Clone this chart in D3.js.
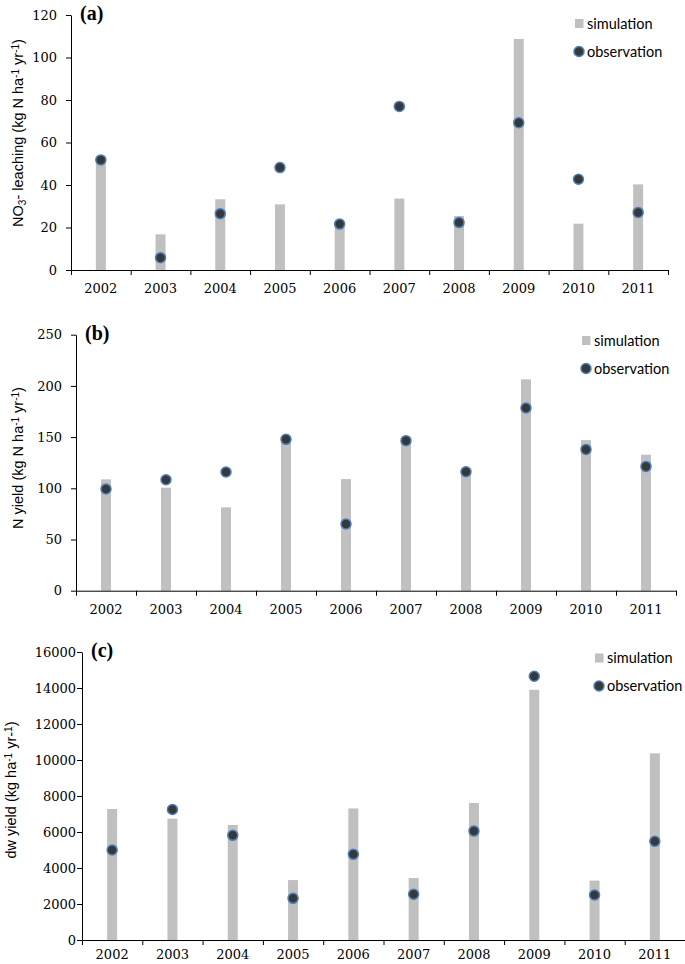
<!DOCTYPE html>
<html>
<head>
<meta charset="utf-8">
<script src="https://cdn.jsdelivr.net/npm/d3@7.9.0/dist/d3.min.js"></script>
<style>
  html, body { margin: 0; padding: 0; background: #fff; }
  svg { display: block; }
  .tick text { font-family: "DejaVu Serif", serif; font-size: 13px; fill: #000; }
  .domain, .tick line { stroke: #000; stroke-width: 1; }
  .ylab { font-family: "Liberation Sans", Arial, sans-serif; font-size: 14.5px; }
  .legend text { font-family: Lato, "Open Sans", sans-serif; font-size: 14.5px; }
  .plabel { font-family: "Liberation Serif", serif; font-weight: bold; font-size: 20px; }
</style>
</head>
<body>
<div id="chart"></div>
<script>
// data
const years = ["2002", "2003", "2004", "2005", "2006", "2007", "2008", "2009", "2010", "2011"];

// (a) NO3- leaching
const leachSim = [51, 16.8, 33.3, 30.9, 21, 33.6, 25.4, 108.7, 21.8, 40.3];
const leachObs = [51.8, 5.8, 26.5, 48.2, 21.6, 77, 22.3, 69.3, 42.7, 27.1];
const leachTicks = [0, 20, 40, 60, 80, 100, 120];

// (b) N yield
const nSim = [108.7, 100.6, 81.4, 147, 109, 147, 116, 206.4, 147.1, 132.8];
const nObs = [99.3, 108.4, 115.9, 147.8, 65.1, 146.5, 116.2, 178.4, 138, 121.4];
const nTicks = [0, 50, 100, 150, 200, 250];

// (c) dw yield
const dwSim = [7280, 6740, 6390, 3330, 7310, 3440, 7610, 13900, 3300, 10370];
const dwObs = [5000, 7250, 5815, 2315, 4760, 2540, 6050, 14650, 2500, 5480];
const dwTicks = [0, 2000, 4000, 6000, 8000, 10000, 12000, 14000, 16000];

const legendLabels = ["simulation", "observation"];

const W = 685, H = 964;
const barColor = "#c0c0c0";
const dotFill = "#383838";
const dotStroke = "#4a7fc1";

const svg = d3.select("#chart").append("svg")
  .attr("width", W).attr("height", H)
  .attr("viewBox", `0 0 ${W} ${H}`);

// 每个面板的位置
const panels = [
  {
    tag: "(a)", sim: leachSim, obs: leachObs, ticks: leachTicks,
    x0: 71, x1: 668, yTop: 15, yBot: 270, labGap: 9, xPad: 14,
    ylab: { x: 18, y: 133, parts: [["NO"], ["3", "sub"], ["- leaching (kg N ha"], ["-1", "sup"], [" yr"], ["-1", "sup"], [")"]] },
    legend: { x: 575, y: 19 }
  },
  {
    tag: "(b)", sim: nSim, obs: nObs, ticks: nTicks,
    x0: 76, x1: 676, yTop: 334.7, yBot: 590.7, labGap: 9, xPad: 14,
    ylab: { x: 18, y: 458, parts: [["N yield (kg N ha"], ["-1", "sup"], [" yr"], ["-1", "sup"], [")"]] },
    legend: { x: 582, y: 336 }
  },
  {
    tag: "(c)", sim: dwSim, obs: dwObs, ticks: dwTicks,
    x0: 82, x1: 685, yTop: 652, yBot: 940, labGap: 1, xPad: 10,
    ylab: { x: 11, y: 790, parts: [["dw yield (kg ha"], ["-1", "sup"], [" yr-"], ["1", "sup"], [")"]] },
    legend: { x: 595, y: 653.5 }
  }
];

panels.forEach(drawPanel);

function drawPanel(p) {
  const g = svg.append("g");

  const x = d3.scaleBand().domain(years).range([p.x0, p.x1]);
  const xEdge = d3.scaleLinear().domain([0, years.length]).range([p.x0, p.x1]);
  const y = d3.scaleLinear()
    .domain([0, d3.max(p.ticks)])
    .range([p.yBot, p.yTop]);

  // bars
  const bw = 10;
  g.append("g").selectAll("rect")
    .data(p.sim)
    .join("rect")
    .attr("x", (d, i) => x(years[i]) + x.bandwidth() / 2 - bw / 2)
    .attr("y", (d) => y(d))
    .attr("width", bw)
    .attr("height", (d) => y(0) - y(d))
    .attr("fill", barColor);

  // y axis
  g.append("g")
    .attr("transform", `translate(${p.x0},0)`)
    .call(d3.axisLeft(y).tickValues(p.ticks).tickSize(5).tickSizeOuter(0)
      .tickPadding(p.labGap)
      .tickFormat(d3.format("d")));

  // x axis：刻度在类别边界
  g.append("g")
    .attr("transform", `translate(0,${p.yBot})`)
    .call(d3.axisBottom(xEdge).tickValues(d3.range(years.length + 1))
      .tickSize(5).tickSizeOuter(0).tickFormat(""));

  // x labels at band centers
  const xl = g.append("g")
    .attr("transform", `translate(0,${p.yBot})`)
    .call(d3.axisBottom(x).tickSize(0).tickPadding(p.xPad));
  xl.select(".domain").remove();

  // dots
  g.append("g").selectAll("circle")
    .data(p.obs)
    .join("circle")
    .attr("cx", (d, i) => x(years[i]) + x.bandwidth() / 2)
    .attr("cy", (d) => y(d))
    .attr("r", 5)
    .attr("fill", dotFill)
    .attr("stroke", dotStroke)
    .attr("stroke-width", 1.5);

  // panel tag
  g.append("text").attr("class", "plabel")
    .attr("x", p.x0 + 9).attr("y", p.yTop + 5)
    .text(p.tag);

  // y label
  const t = g.append("text").attr("class", "ylab")
    .attr("transform", `translate(${p.ylab.x},${p.ylab.y}) rotate(-90)`)
    .attr("text-anchor", "middle")
    .attr("dy", "0.35em");
  p.ylab.parts.forEach(([s, kind]) => {
    const sp = t.append("tspan").text(s);
    if (kind === "sup") sp.attr("font-size", "10px").attr("baseline-shift", "4.5px");
    if (kind === "sub") sp.attr("font-size", "10px").attr("baseline-shift", "-3px");
  });

  // legend
  const lg = g.append("g").attr("class", "legend")
    .attr("transform", `translate(${p.legend.x},${p.legend.y})`);
  lg.append("rect").attr("x", 0).attr("y", 0)
    .attr("width", 8.5).attr("height", 9).attr("fill", barColor);
  lg.append("text").attr("x", 12).attr("y", 9.5).text(legendLabels[0]);
  lg.append("circle").attr("cx", 4).attr("cy", 32.5).attr("r", 5)
    .attr("fill", dotFill).attr("stroke", dotStroke).attr("stroke-width", 1.5);
  lg.append("text").attr("x", 12).attr("y", 37.5).text(legendLabels[1]);
}
</script>
</body>
</html>
